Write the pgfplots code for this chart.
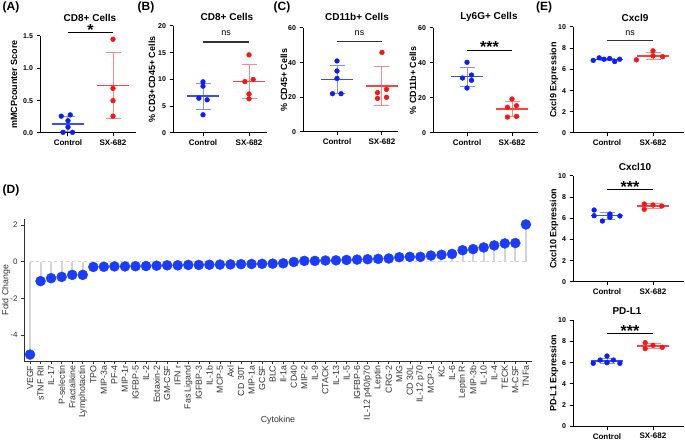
\documentclass[border=0pt]{standalone}
\usepackage{fontspec}
\setmainfont{Liberation Sans}
\usepackage{pgfplots}
\usepackage{pgfplotstable}
\pgfplotsset{compat=1.18}

\definecolor{pblue}{RGB}{10,30,255}
\definecolor{pred}{RGB}{250,20,20}
\definecolor{dblue}{RGB}{25,60,255}
\definecolor{stem}{RGB}{212,212,212}
\definecolor{dgray}{RGB}{50,50,50}

\newcommand{\fs}[1]{\fontsize{#1}{#1}\selectfont}

\pgfplotsset{
  prism/.style={
    scale only axis, anchor=south west, clip=false,
    axis lines*=left,
    axis line style={line width=1pt, black},
    tick align=outside, major tick length=3.5pt,
    tick style={line width=1pt, black},
    xtick={0,1}, xticklabels={Control,SX-682},
    xticklabel style={font=\bfseries\fs{8}},
    yticklabel style={font=\bfseries\fs{7}},
    /pgf/number format/assume math mode=true,
    ylabel style={font=\bfseries\fs{9}, anchor=center},
  },
  meanbar/.style={only marks, mark=-, mark size=16pt,
    mark options={line width=1.4pt, #1!80},
    error bars/.cd, y dir=both, y explicit, error mark=|,
    error bar style={line width=1pt, #1!50},
    error mark options={mark size=7.5pt, line width=1pt, #1!50}},
  dots/.style={only marks, mark=*, mark size=2.4pt, mark options={draw=#1, fill=#1}},
}

% panel D values, ordered as on the x axis
\pgfplotstableread{
x y
0 -5.05
1 -1.06
2 -0.90
3 -0.83
4 -0.72
5 -0.72
6 -0.29
7 -0.28
8 -0.26
9 -0.26
10 -0.25
11 -0.24
12 -0.22
13 -0.20
14 -0.20
15 -0.18
16 -0.18
17 -0.17
18 -0.16
19 -0.15
20 -0.14
21 -0.13
22 -0.12
23 -0.11
24 -0.09
25 -0.02
26 0.04
27 0.04
28 0.06
29 0.07
30 0.09
31 0.11
32 0.13
33 0.15
34 0.17
35 0.24
36 0.26
37 0.26
38 0.33
39 0.37
40 0.42
41 0.62
42 0.68
43 0.77
44 0.88
45 0.99
46 1.01
47 2.02
}\cytok

\begin{document}
\begin{tikzpicture}
\useasboundingbox (0,0) rectangle (685pt,441pt);

% ---------- (A)
\begin{axis}[prism, at={(40pt,308pt)}, width=96pt, height=97pt,
  xmin=-0.622, xmax=1.511, ymin=0, ymax=1.5, ytick={0,0.5,1,1.5},
  yticklabel style={/pgf/number format/.cd, fixed, fixed zerofill, precision=1},
  ylabel={mMCPcounter Score},
  ylabel style={at={([xshift=-26pt]axis description cs:0,0.5)}}]
\addplot[meanbar=pblue] coordinates {(0,0.14) +- (0,0.12)};
\addplot[meanbar=pred] coordinates {(1,0.73) +- (0,0.51)};
\addplot[dots=pblue] coordinates {(-0.15,0.26) (0.05,0.28) (0,0.19) (0,0.09) (-0.11,0.01) (0.10,0.01)};
\addplot[dots=pred] coordinates {(1,1.45) (1,0.69) (1,0.50) (1,0.26)};
\draw[line width=1.1pt] (axis cs:0,1.55) -- (axis cs:1,1.55);
\node[anchor=base, font=\bfseries\fs{16}] at (axis cs:0.5,1.50) {*};
\end{axis}

% ---------- (B)
\begin{axis}[prism, at={(173pt,308pt)}, width=94pt, height=107pt,
  xmin=-0.652, xmax=1.391, ymin=0, ymax=20, ytick={0,5,10,15,20},
  ylabel={\% CD3+CD45+ Cells},
  ylabel style={at={([xshift=-21pt]axis description cs:0,0.5)}}]
\addplot[meanbar=pblue] coordinates {(0,6.88) +- (0,2.42)};
\addplot[meanbar=pred] coordinates {(1,9.58) +- (0,3.19)};
\addplot[dots=pblue] coordinates {(0,9.56) (0,8.75) (-0.09,6.5) (0.09,6.2) (0,3.4)};
\addplot[dots=pred] coordinates {(1,14.6) (0.91,9.6) (1.09,10.0) (1,7.3) (1,6.4)};
\draw[line width=1.1pt, dgray] (axis cs:0,17) -- (axis cs:1,17);
\node[anchor=base, font=\fs{9}] at (axis cs:0.5,18.2) {ns};
\end{axis}

% ---------- (C) CD11b+
\begin{axis}[prism, at={(303pt,309pt)}, width=95pt, height=104pt,
  xmin=-0.756, xmax=1.356, ymin=0, ymax=60, ytick={0,20,40,60},
  ylabel={\% CD45+ Cells},
  ylabel style={at={([xshift=-19pt]axis description cs:0,0.5)}}]
\addplot[meanbar=pblue] coordinates {(0,30.26) +- (0,8.27)};
\addplot[meanbar=pred] coordinates {(1,26.5) +- (0,11.0)};
\addplot[dots=pblue] coordinates {(0,41.0) (0,35.2) (0,30.9) (-0.1,22.1) (0.09,22.1)};
\addplot[dots=pred] coordinates {(1,45.9) (0.9,22.7) (1.1,24.6) (0.9,19.4) (1.1,20.0)};
\draw[line width=1.1pt, dgray] (axis cs:0,52.1) -- (axis cs:1,52.1);
\node[anchor=base, font=\fs{9}] at (axis cs:0.5,55.7) {ns};
\end{axis}

% ---------- (C) Ly6G+
\begin{axis}[prism, at={(433pt,308pt)}, width=105pt, height=105pt,
  xmin=-0.756, xmax=1.578, ymin=0, ymax=60, ytick={0,20,40,60},
  ylabel={\% CD11b+ Cells},
  ylabel style={at={([xshift=-20pt]axis description cs:0,0.5)}}]
\addplot[meanbar=pblue] coordinates {(0,32.14) +- (0,5.37)};
\addplot[meanbar=pred] coordinates {(1,13.66) +- (0,4.36)};
\addplot[dots=pblue] coordinates {(0,40.4) (-0.1,31.4) (0.1,33.1) (0.1,30.1) (0,25.7)};
\addplot[dots=pred] coordinates {(1,19.4) (0.9,14.7) (1.1,15.6) (0.9,9.1) (1.1,9.5)};
\draw[line width=1.1pt] (axis cs:0,47.3) -- (axis cs:1,47.3);
\node[anchor=base, font=\bfseries\fs{16}] at (axis cs:0.5,45.8) {***};
\end{axis}

% ---------- (E) Cxcl9
\begin{axis}[prism, at={(573pt,308pt)}, width=111pt, height=106pt,
  xmin=-0.739, xmax=1.674, ymin=0, ymax=10, ytick={0,2,4,6,8,10},
  ylabel={Cxcl9 Expression},
  ylabel style={at={([xshift=-19pt]axis description cs:0,0.5)}}]
\addplot[meanbar=pblue] coordinates {(0,6.94) +- (0,0.13)};
\addplot[meanbar=pred] coordinates {(1,7.28) +- (0,0.35)};
\addplot[dots=pblue] coordinates {(-0.30,6.85) (-0.17,7.09) (-0.065,6.96) (0.058,7.03) (0.167,6.74) (0.275,6.96)};
\addplot[dots=pred] coordinates {(0.64,6.9) (1.0,7.75) (1.0,7.28) (1.21,7.2)};
\draw[line width=1.1pt, dgray] (axis cs:0,8.7) -- (axis cs:1,8.7);
\node[anchor=base, font=\fs{9}] at (axis cs:0.5,9.2) {ns};
\end{axis}

% ---------- (E) Cxcl10
\begin{axis}[prism, at={(573pt,159.3pt)}, width=111pt, height=105.7pt,
  xmin=-0.739, xmax=1.674, ymin=0, ymax=10, ytick={0,2,4,6,8,10},
  ylabel={Cxcl10 Expression},
  ylabel style={at={([xshift=-19pt]axis description cs:0,0.5)}}]
\addplot[meanbar=pblue] coordinates {(0,6.25) +- (0,0.34)};
\addplot[meanbar=pred] coordinates {(1,7.16) +- (0,0.22)};
\addplot[dots=pblue] coordinates {(-0.28,6.78) (-0.28,6.24) (-0.10,5.74) (0.065,6.40) (0.065,6.09) (0.28,6.22)};
\addplot[dots=pred] coordinates {(0.81,7.35) (0.81,6.85) (1.0,7.26) (1.19,7.16)};
\draw[line width=1.1pt] (axis cs:0,8.7) -- (axis cs:1,8.7);
\node[anchor=base, font=\bfseries\fs{16}] at (axis cs:0.5,8.46) {***};
\end{axis}

% ---------- (E) PD-L1
\begin{axis}[prism, at={(573pt,14.7pt)}, width=111pt, height=106pt,
  xmin=-0.739, xmax=1.674, ymin=0, ymax=10, ytick={0,2,4,6,8,10},
  ylabel={PD-L1 Expression},
  ylabel style={at={([xshift=-19pt]axis description cs:0,0.5)}}]
\addplot[meanbar=pblue] coordinates {(0,6.17) +- (0,0.27)};
\addplot[meanbar=pred] coordinates {(1,7.58) +- (0,0.24)};
\addplot[dots=pblue] coordinates {(-0.30,5.94) (-0.15,6.25) (0,6.63) (0,6.0) (0.14,6.25) (0.28,5.94)};
\addplot[dots=pred] coordinates {(0.83,7.89) (0.83,7.33) (1.0,7.64) (1.2,7.45)};
\draw[line width=1.1pt] (axis cs:0,8.77) -- (axis cs:1,8.77);
\node[anchor=base, font=\bfseries\fs{16}] at (axis cs:0.5,8.49) {***};
\end{axis}

% ---------- (D)
\begin{axis}[scale only axis, anchor=south west, at={(24pt,80pt)}, width=508pt, height=141.7pt,
  clip=false, axis lines*=left,
  axis line style={line width=0.8pt, dgray},
  tick align=outside, major tick length=3pt, tick style={line width=0.6pt, dgray},
  xmin=-0.569, xmax=47.58, ymin=-5.4, ymax=2.3, ytick={-4,-2,0,2},
  /pgf/number format/assume math mode=true,
  yticklabel style={font=\fs{8}, text=dgray},
  xtick={0,...,47},
  xticklabels={VEGF,sTNF RII,IL-17,P-selectin,Fractalkine,Lymphotactin,TPO,MIP-3a,PF-4,MIP-1r,IGFBP-5,IL-2,Eotaxin-2,GM-CSF,IFN r,Fas Ligand,IGFBP-3,IL-1b,MCP-5,Axl,CD 30T,MIP-1a,GCSF,BLC,Il-1a,CD40,MIP-2,IL-9,CTACK,IL-13,IL-5,IGFBP-6,IL-12 p40/p70,Leptin,CRG-2,MIG,CD 30L,IL-12 p70,MCP-1,KC,IL-6,Leptin R,MIP-3b,IL-10,IL-4,TECK,M-CSF,TNFa},
  xticklabel style={font=\fs{8.8}, text=dgray, rotate=90, anchor=east, inner sep=1.5pt},
  ylabel={Fold Change},
  ylabel style={font=\fs{8.8}, text=dgray, anchor=center, at={([xshift=-18pt]axis description cs:0,0.5)}},
  xlabel={Cytokine},
  xlabel style={font=\fs{8.8}, text=dgray, anchor=center, at={([yshift=-59pt]axis description cs:0.5,0)}}]
\draw[stem, dashed, line width=0.8pt] (axis cs:0,0) -- (axis cs:47,0);
\addplot[ycomb, stem, line width=2pt] table[x=x, y=y] {\cytok};
\addplot[only marks, mark=*, mark size=5pt, mark options={draw=dblue, fill=dblue}] table[x=x, y=y] {\cytok};
\end{axis}

% ---------- titles and panel letters
\begin{scope}[font=\bfseries\fs{10}]
\node at (90pt,423pt) {CD8+ Cells};
\node at (227pt,424pt) {CD8+ Cells};
\node at (357pt,424pt) {CD11b+ Cells};
\node at (489pt,424pt) {Ly6G+ Cells};
\node at (635pt,423pt) {Cxcl9};
\node at (635pt,274pt) {Cxcl10};
\node at (627pt,130pt) {PD-L1};
\end{scope}
\begin{scope}[font=\bfseries\fs{12}]
\node at (11pt,434pt) {(A)};
\node at (146pt,434pt) {(B)};
\node at (282pt,434pt) {(C)};
\node at (544pt,434pt) {(E)};
\node at (11pt,251pt) {(D)};
\end{scope}
\end{tikzpicture}
\end{document}
